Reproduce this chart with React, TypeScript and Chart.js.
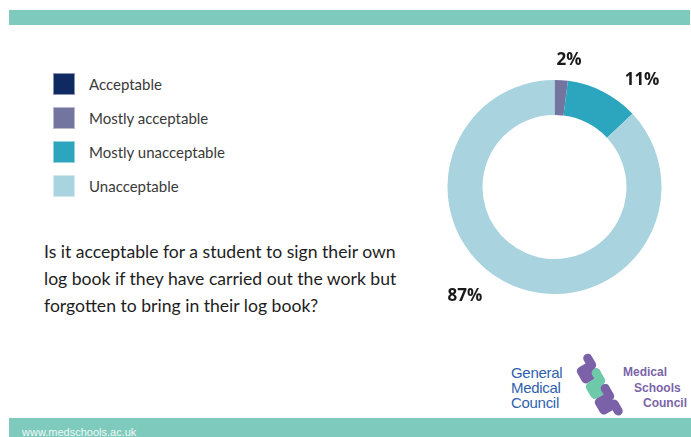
import React, { useEffect, useRef } from "react";
import { Chart, registerables } from "chart.js";

Chart.register(...registerables);

const categories = ["Acceptable", "Mostly acceptable", "Mostly unacceptable", "Unacceptable"];
const shares = [0, 2, 11, 87];
const sliceColors = ["#0f2a60", "#7375a0", "#2ca6bf", "#a9d3de"];
const questionLines = [
  "Is it acceptable for a student to sign their own",
  "log book if they have carried out the work but",
  "forgotten to bring in their log book?",
];

// label nudges (px) relative to the slice mid-angle point
const labelNudges: [number, number][] = [[0, 0], [6.6, -2.2], [30.8, 4.4], [-40, -5.7]];
const LABEL_GAP = 18;

const pctLabels = {
  id: "pctLabels",
  afterDatasetsDraw(chart: any) {
    const ctx = chart.ctx;
    const meta = chart.getDatasetMeta(0);
    ctx.save();
    ctx.font = "bold 17px 'Open Sans'";
    ctx.fillStyle = "#1a1a1a";
    ctx.textAlign = "center";
    ctx.textBaseline = "middle";
    meta.data.forEach((arc: any, i: number) => {
      const v = chart.data.datasets[0].data[i];
      if (!v) return;
      const p = arc.getProps(["x", "y", "startAngle", "endAngle", "outerRadius"], true);
      const mid = (p.startAngle + p.endAngle) / 2;
      const r = p.outerRadius + LABEL_GAP;
      const x = p.x + Math.cos(mid) * r + labelNudges[i][0];
      const y = p.y + Math.sin(mid) * r + labelNudges[i][1];
      ctx.fillText(v + "%", x, y);
    });
    ctx.restore();
  },
};

export default function App() {
  const ref = useRef<HTMLCanvasElement>(null);
  useEffect(() => {
    document.body.style.margin = "0";
    const chart = new Chart(ref.current!, {
      type: "doughnut",
      data: {
        labels: categories,
        datasets: [
          {
            data: shares,
            backgroundColor: sliceColors,
            borderWidth: 0,
            hoverOffset: 0,
            offset: 0,
          },
        ],
      },
      options: {
        animation: false,
        responsive: false,
        cutout: "67.3%",
        layout: { padding: { left: 47.5, top: 50, right: 28.5, bottom: 26 } },
        plugins: { legend: { display: false }, tooltip: { enabled: false } },
      },
      plugins: [pctLabels],
    });
    return () => chart.destroy();
  }, []);

  return (
    <div style={{ position: "absolute", left: 0, top: 0, width: 691, height: 437, background: "#fff", overflow: "hidden", fontFamily: "Lato" }}>
      <div style={{ position: "absolute", left: 9, top: 10, width: 681, height: 15, background: "#7ecbbd" }} />
      {categories.map((c, i) => (
        <div key={c} style={{ position: "absolute", left: 53, top: 73 + i * 34, height: 22, display: "flex", alignItems: "center" }}>
          <div style={{ width: 22, height: 22, background: sliceColors[i], boxSizing: "border-box", border: "1px solid rgba(255,255,255,0.5)" }} />
          <span style={{ marginLeft: 14, fontSize: 15, color: "#3a3a3a" }}>{c}</span>
        </div>
      ))}
      <div style={{ position: "absolute", left: 44, top: 238, fontSize: 17.6, lineHeight: "27px", color: "#1e1e1e", whiteSpace: "nowrap" }}>
        {questionLines.map((l) => (
          <div key={l}>{l}</div>
        ))}
      </div>
      <canvas ref={ref} width={290} height={290} style={{ position: "absolute", left: 400, top: 30, width: 290, height: 290 }} />
      <div style={{ position: "absolute", left: 511, top: 365, fontFamily: "'Liberation Sans'", fontSize: 15, lineHeight: "15px", color: "#2f5fae", letterSpacing: -0.3 }}>
        <div>General</div>
        <div>Medical</div>
        <div>Council</div>
      </div>
      <svg style={{ position: "absolute", left: 572, top: 352 }} width={52} height={70} viewBox="0 0 52 70">
        <g transform="translate(26 36) rotate(60)">
          <path d="M-31 -6 L-23 -6 L-23 6 L-14 6 L-14 -6" fill="none" stroke="#7b62a8" strokeWidth={9} strokeLinejoin="round" strokeLinecap="round" />
          <path d="M-14 -6 L-5 -6 L-5 6 L4 6 L4 -6" fill="none" stroke="#6ec9a9" strokeWidth={9} strokeLinejoin="round" strokeLinecap="round" />
          <path d="M4 -6 L13 -6 L13 6 L22 6 L22 -6 L30 -6" fill="none" stroke="#7b62a8" strokeWidth={9} strokeLinejoin="round" strokeLinecap="round" />
        </g>
      </svg>
      <div style={{ position: "absolute", left: 623, top: 365, fontFamily: "'Liberation Sans'", fontWeight: "bold", fontSize: 12, lineHeight: "15.5px", color: "#7b64a8" }}>
        <div>Medical</div>
        <div style={{ marginLeft: 11 }}>Schools</div>
        <div style={{ marginLeft: 20 }}>Council</div>
      </div>
      <div style={{ position: "absolute", left: 9, top: 418, width: 682, height: 19, background: "#7ecbbd" }} />
      <div style={{ position: "absolute", left: 22, top: 426, fontFamily: "'Liberation Sans'", fontSize: 11, color: "#eef8f6" }}>www.medschools.ac.uk</div>
    </div>
  );
}
